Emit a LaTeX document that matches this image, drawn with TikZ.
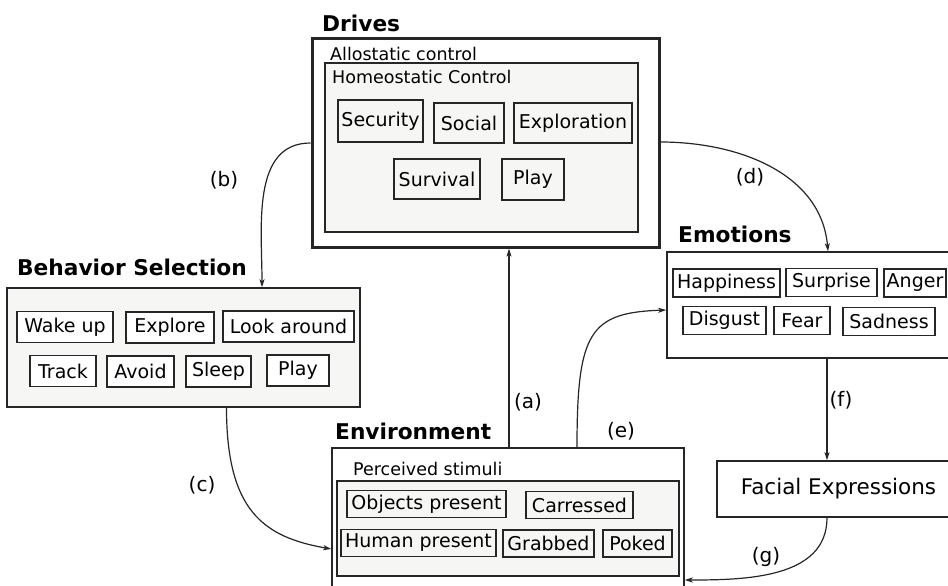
\documentclass[tikz,border=0pt]{standalone}
\usepackage{fontspec}
\setmainfont{DejaVu Sans}
\usetikzlibrary{positioning, arrows.meta, calc}

\definecolor{panel}{HTML}{F6F6F4}
\definecolor{edge}{HTML}{262626}

\tikzset{
  group/.style={draw=edge, line width=1.5pt, inner sep=0pt},
  item/.style={draw=edge, line width=1.5pt, inner sep=0pt, font=\fontsize{19}{22}\selectfont},
  heading/.style={anchor=base west, inner sep=0pt, font=\fontsize{21.7}{26}\selectfont\bfseries},
  caption/.style={anchor=base west, inner sep=0pt, font=\fontsize{17.5}{21}\selectfont},
  lbl/.style={inner sep=0pt, font=\fontsize{20}{24}\selectfont},
  flow/.style={draw=edge, line width=1.2pt, -{Stealth[length=8pt,width=5pt,inset=2pt]}}
}

\begin{document}
\begin{tikzpicture}[x=1pt, y=-1pt]
                  \useasboundingbox (0,0) rectangle (948,586);

                  % Group boxes
                  \node[group, line width=3pt, minimum width=347, minimum height=208] (drives) at (485.5,143) {};
                  \node[group, fill=panel, minimum width=313, minimum height=169] (homeo) at (481.5,147.5) {};
                  \node[group, fill=panel, minimum width=353, minimum height=119] (behavior) at (183.5,347.5) {};
                  \node[group, minimum width=352, minimum height=152] (envouter) at (508,524) {};
                  \node[group, fill=panel, minimum width=342, minimum height=95] (envinner) at (508,528.5) {};
                  \node[group, minimum width=293, minimum height=106] (emotions) at (813.5,305) {};
                  \node[group, minimum width=243, minimum height=56, font=\fontsize{21.5}{26}\selectfont] (facial) at (838.5,489) {Facial Expressions};

                  % Headings and captions
                  \node[heading] (tdrives) at (322,31.7) {Drives};
                  \node[heading] (tbehavior) at (17,275) {Behavior Selection};
                  \node[heading] (tenv) at (335,439) {Environment};
                  \node[heading] (temotions) at (678,242) {Emotions};
                  \node[caption] (callo) at (330,60) {Allostatic control};
                  \node[caption] (chomeo) at (332,84) {Homeostatic Control};
                  \node[caption] (cstimuli) at (353,475) {Perceived stimuli};

                  % Drives
                  \foreach \n/\t/\x/\y/\w/\h in {security/Security/380.5/121/85/42, social/Social/469/123/70/40,
                    exploration/Exploration/573/123/118/40, survival/Survival/437/179/86/40, dplay/Play/533/179.5/62/41}
                  \node[item, minimum width=\w, minimum height=\h] (\n) at (\x,\y) {\t};

                  % Behaviors
                  \foreach \n/\t/\x/\y/\w in {wakeup/Wake up/65/327/96, explore/Explore/170/327.5/88,
                    lookaround/Look around/288.5/326.5/131, track/Track/63/371/66, avoid/Avoid/140.5/371.5/67,
                    sleep/Sleep/218.5/371.5/65, bplay/Play/298/370.5/62}
                  \node[item, fill=white, minimum width=\w, minimum height=31] (\n) at (\x,\y) {\t};

                  % Stimuli
                  \foreach \n/\t/\x/\y/\w in {objects/Objects present/426.5/504/159, carressed/Carressed/579.5/505/107,
                    human/Human present/418.5/543/155, grabbed/Grabbed/548.5/543.5/91, poked/Poked/637.5/543.5/69}
                  \node[item, minimum width=\w, minimum height=27] (\n) at (\x,\y) {\t};

                  % Emotions
                  \foreach \n/\t/\x/\y/\w in {happiness/Happiness/726.5/283/107, surprise/Surprise/831.5/282.5/91,
                    anger/Anger/915/283/62, disgust/Disgust/724.5/320.5/83, fear/Fear/802/320.5/56,
                    sadness/Sadness/889/321.5/92}
                  \node[item, minimum width=\w, minimum height=28] (\n) at (\x,\y) {\t};

                  % Arrows
                  \coordinate (ax) at (509,0);
                  \coordinate (ex) at (577,0);
                  \coordinate (fx) at (827,0);
                  \draw[flow] (envouter.north -| ax) -- (drives.south -| ax);
                  \draw[flow] (drives.west) to[out=180, in=90] ([xshift=78.5pt]behavior.north);
                  \draw[flow] ([yshift=1pt]drives.east) to[out=0, in=95] ([xshift=14.5pt]emotions.north);
                  \draw[flow] ([xshift=43pt]behavior.south) to[out=-90, in=170, out looseness=1.5] ([yshift=-25pt]envouter.west);
                  \draw[flow] (envouter.north -| ex) to[out=90, in=182, out looseness=1.8, in looseness=1.2] ([yshift=-5pt]emotions.west);
                  \draw[flow] (emotions.south -| fx) -- (facial.north -| fx);
                  \draw[flow] (facial.south -| fx) to[out=-90, in=0] ([yshift=-56pt]envouter.east);

                  % Labels
                  \node[lbl] (la) at (528,402) {(a)};
                  \node[lbl] (lb) at (224,180) {(b)};
                  \node[lbl] (lc) at (202,485) {(c)};
                  \node[lbl] (ld) at (750,177) {(d)};
                  \node[lbl] (le) at (621,431) {(e)};
                  \node[lbl] (lf) at (841,400) {(f)};
                  \node[lbl] (lg) at (766,557) {(g)};
              \end{tikzpicture}
\end{document}
